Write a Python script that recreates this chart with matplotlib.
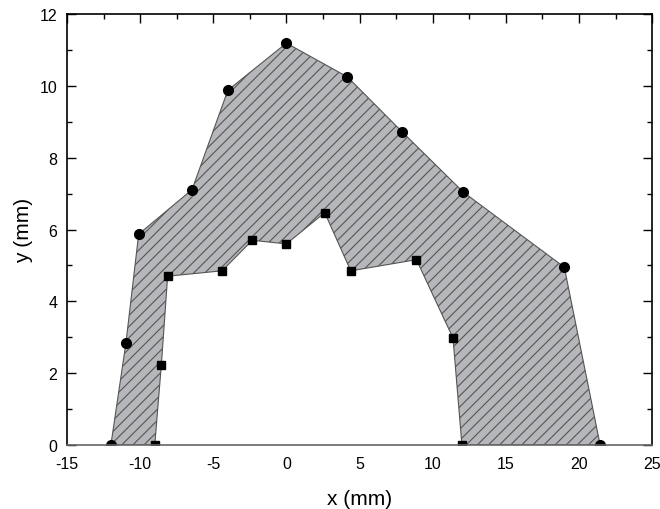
import matplotlib
matplotlib.use('Agg')
from matplotlib import pyplot as plt
from matplotlib.ticker import MultipleLocator

plt.rcParams['font.family'] = ['Liberation Sans', 'DejaVu Sans']
plt.rcParams['axes.unicode_minus'] = False
plt.rcParams['hatch.color'] = '#3c3c3c'
plt.rcParams['hatch.linewidth'] = 0.8
plt.rcParams['xtick.direction'] = 'in'
plt.rcParams['ytick.direction'] = 'in'

# outer boundary (circles)
outer_x = [-12.0, -10.97, -10.1, -6.45, -4.0, 0.0, 4.17, 7.91, 12.1, 19.0, 21.45]
outer_y = [0.0, 2.84, 5.87, 7.11, 9.88, 11.19, 10.25, 8.72, 7.04, 4.95, 0.0]

# inner boundary (squares)
inner_x = [-9.0, -8.55, -8.12, -4.4, -2.33, 0.0, 2.62, 4.4, 8.89, 11.39, 12.0]
inner_y = [0.0, 2.23, 4.70, 4.85, 5.70, 5.60, 6.47, 4.85, 5.16, 2.98, 0.0]

fig = plt.figure(figsize=(6.6, 5.1), dpi=100)
ax = fig.add_axes([0.1015, 0.1255, 0.8865, 0.845])

poly_x = outer_x + inner_x[::-1]
poly_y = outer_y + inner_y[::-1]
ax.fill(poly_x, poly_y, facecolor='#b5b7ba', edgecolor='#555555',
        linewidth=0.8, hatch='///')

ax.plot(outer_x, outer_y, 'o', color='black', markersize=7, linestyle='none')
ax.plot(inner_x, inner_y, 's', color='black', markersize=6, linestyle='none')

ax.set_xlim(-15, 25)
ax.set_ylim(0, 12)
ax.xaxis.set_major_locator(MultipleLocator(5))
ax.yaxis.set_major_locator(MultipleLocator(2))
ax.yaxis.set_minor_locator(MultipleLocator(1))
ax.xaxis.set_minor_locator(MultipleLocator(2.5))

ax.tick_params(which='major', direction='in', top=True, right=True,
               length=6.5, width=1, labelsize=11.5)
ax.tick_params(which='minor', direction='in', top=True, right=True,
               length=3.5, width=1)
ax.tick_params(axis='x', which='both', bottom=False, pad=8)
ax.tick_params(axis='y', pad=7)

for s in ['left', 'right', 'top']:
    ax.spines[s].set_linewidth(1.2)
    ax.spines[s].set_color('black')
ax.spines['bottom'].set_color('#666666')
ax.spines['bottom'].set_linewidth(1.2)

ax.set_xlabel('x (mm)', fontsize=15, labelpad=13)
ax.set_ylabel('y (mm)', fontsize=15, labelpad=5)

fig.savefig('out.png', dpi=100)
